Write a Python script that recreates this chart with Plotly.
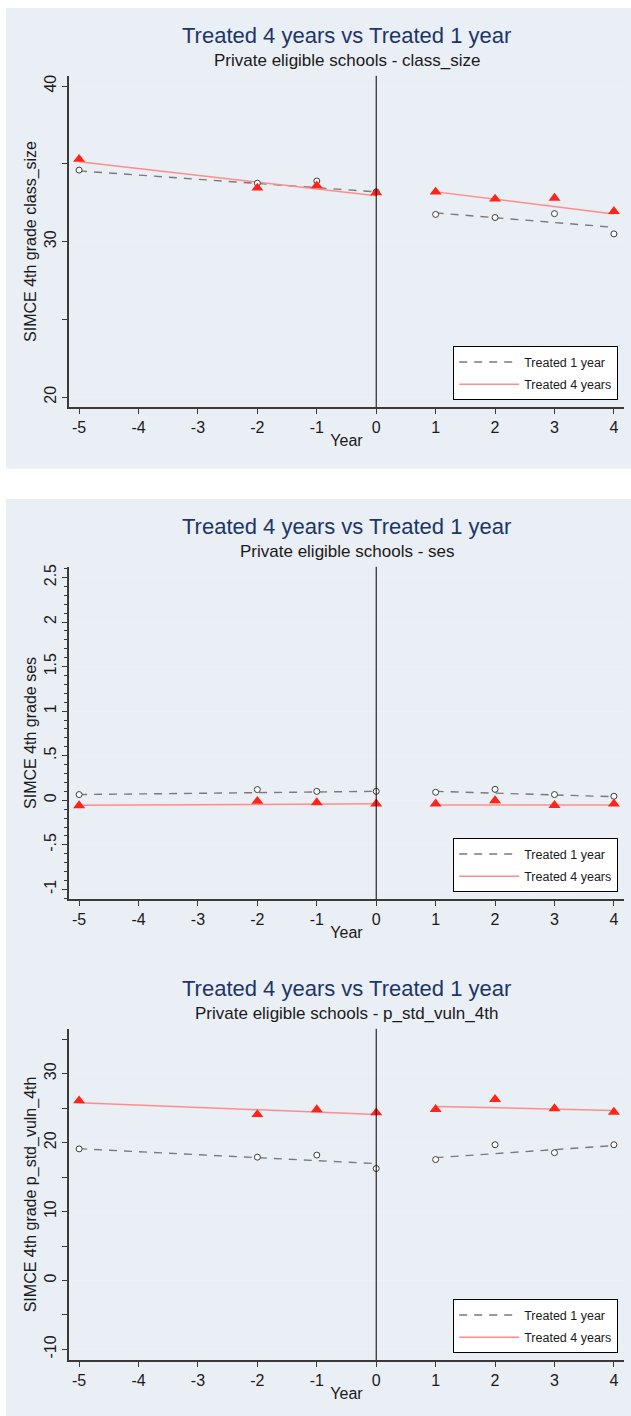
import plotly.graph_objects as go

W, H = 631, 1416

# Event-time axis
years = [-5, -2, -1, 0, 1, 2, 3, 4]
pre_span = [-5, 0]
post_span = [1, 4]

# class_size: group means by year
class_size_t1 = [34.6, 33.76, 33.9, 33.2, 31.75, 31.55, 31.8, 30.5]
class_size_t4 = [35.3, 33.45, 33.6, 33.15, 33.2, 32.75, 32.8, 31.95]
# class_size: linear fits before and after treatment (values at span ends)
class_size_t1_pre_fit = [34.55, 33.2]
class_size_t1_post_fit = [31.85, 30.92]
class_size_t4_pre_fit = [35.13, 32.95]
class_size_t4_post_fit = [33.2, 31.78]

# ses
ses_t1 = [0.064, 0.12, 0.10, 0.10, 0.09, 0.123, 0.064, 0.045]
ses_t4 = [-0.06, -0.01, -0.026, -0.04, -0.04, -0.003, -0.056, -0.04]
ses_t1_pre_fit = [0.064, 0.10]
ses_t1_post_fit = [0.10, 0.04]
ses_t4_pre_fit = [-0.056, -0.04]
ses_t4_post_fit = [-0.053, -0.053]

# p_std_vuln_4th
vuln_t1 = [19.1, 17.9, 18.2, 16.25, 17.55, 19.7, 18.55, 19.7]
vuln_t4 = [26.1, 24.1, 24.8, 24.35, 24.85, 26.3, 24.95, 24.45]
vuln_t1_pre_fit = [19.13, 16.96]
vuln_t1_post_fit = [17.83, 19.57]
vuln_t4_pre_fit = [25.8, 24.1]
vuln_t4_post_fit = [25.26, 24.68]

series_names = ["Treated 1 year", "Treated 4 years"]
subtitles = [
    "Private eligible schools - class_size",
    "Private eligible schools - ses",
    "Private eligible schools - p_std_vuln_4th",
]
ytitles = [
    "SIMCE 4th grade class_size",
    "SIMCE 4th grade ses",
    "SIMCE 4th grade p_std_vuln_4th",
]
main_title = "Treated 4 years vs Treated 1 year"

# y-axis ticks per panel
y_ticks = [
    dict(vals=[20, 30, 40], text=["20", "30", "40"], minor=5, minorlen=5, rng=[19.36, 40.66]),
    dict(vals=[-1, -0.5, 0, 0.5, 1, 1.5, 2, 2.5],
         text=["-1", "-.5", "0", ".5", "1", "1.5", "2", "2.5"], minor=0.1, minorlen=3,
         rng=[-1.109, 2.62]),
    dict(vals=[-10, 0, 10, 20, 30], text=["-10", "0", "10", "20", "30"], minor=5, minorlen=5,
         rng=[-11.55, 36.52]),
]

panels = [
    (class_size_t1, class_size_t4, class_size_t1_pre_fit, class_size_t1_post_fit,
     class_size_t4_pre_fit, class_size_t4_post_fit),
    (ses_t1, ses_t4, ses_t1_pre_fit, ses_t1_post_fit, ses_t4_pre_fit, ses_t4_post_fit),
    (vuln_t1, vuln_t4, vuln_t1_pre_fit, vuln_t1_post_fit, vuln_t4_pre_fit, vuln_t4_post_fit),
]

# plot-area pixel boxes (left, top, right, bottom)
boxes = [(69, 73, 624, 405), (69, 565, 624, 898), (69, 1028, 624, 1360)]

BG = "#eaeef5"
GREY = "#7a7a7a"
PINK = "#ff8c8c"
RED = "#ff2418"
AXIS = "#3a3a3a"
TXT = "#1a1a1a"
NAVY = "#1c3767"
FONT = "Liberation Sans, Arial, sans-serif"


def fx(px):
    return px / W


def fy(py):
    return 1 - py / H


fig = go.Figure()
layout = dict(
    width=W, height=H, margin=dict(l=0, r=0, t=0, b=0),
    paper_bgcolor="white", plot_bgcolor="white",
    font=dict(family=FONT, color=TXT),
    shapes=[], annotations=[],
)

# panel backgrounds
layout["shapes"].append(dict(type="rect", xref="paper", yref="paper", layer="below",
                             x0=fx(6), x1=1, y0=fy(466.7), y1=fy(5),
                             fillcolor=BG, line=dict(width=0)))
layout["shapes"].append(dict(type="rect", xref="paper", yref="paper", layer="below",
                             x0=fx(6), x1=1, y0=0, y1=fy(497),
                             fillcolor=BG, line=dict(width=0)))

for i, (t1, t4, t1pre, t1post, t4pre, t4post) in enumerate(panels):
    n = i + 1
    sx = "" if n == 1 else str(n)
    xa, ya = "x" + sx, "y" + sx
    leg = "legend" if n == 1 else "legend" + str(n)
    left, top, right, bottom = boxes[i]

    # fitted lines (legend entries)
    fig.add_trace(go.Scatter(x=pre_span, y=t1pre, mode="lines", xaxis=xa, yaxis=ya,
                             line=dict(color=GREY, width=1.4, dash="8px,7px"),
                             name=series_names[0], legend=leg, legendgroup="a",
                             showlegend=True, hoverinfo="skip"))
    fig.add_trace(go.Scatter(x=post_span, y=t1post, mode="lines", xaxis=xa, yaxis=ya,
                             line=dict(color=GREY, width=1.4, dash="8px,7px"),
                             name=series_names[0], legend=leg, legendgroup="a",
                             showlegend=False, hoverinfo="skip"))
    fig.add_trace(go.Scatter(x=pre_span, y=t4pre, mode="lines", xaxis=xa, yaxis=ya,
                             line=dict(color=PINK, width=1.5),
                             name=series_names[1], legend=leg, legendgroup="b",
                             showlegend=True, hoverinfo="skip"))
    fig.add_trace(go.Scatter(x=post_span, y=t4post, mode="lines", xaxis=xa, yaxis=ya,
                             line=dict(color=PINK, width=1.5),
                             name=series_names[1], legend=leg, legendgroup="b",
                             showlegend=False, hoverinfo="skip"))
    # yearly means
    fig.add_trace(go.Scatter(x=years, y=t1, mode="markers", xaxis=xa, yaxis=ya,
                             marker=dict(symbol="circle", size=6, color="white",
                                         line=dict(color="#3c3c3c", width=1)),
                             name=series_names[0], showlegend=False))
    fig.add_trace(go.Scatter(x=years, y=t4, mode="markers", xaxis=xa, yaxis=ya,
                             marker=dict(symbol="triangle-up", size=10.5, color=RED,
                                         line=dict(width=0)),
                             name=series_names[1], showlegend=False))

    yt = y_ticks[i]
    layout["xaxis" + sx] = dict(
        domain=[fx(left), fx(right)], anchor=ya, range=[-5.17, 4.17],
        tickvals=list(range(-5, 5)), ticktext=[str(v) for v in range(-5, 5)],
        ticks="outside", ticklen=5, tickwidth=1.2, tickcolor=AXIS,
        showline=True, linecolor=AXIS, linewidth=1.6, showgrid=False, zeroline=False,
        tickfont=dict(size=16, color=TXT),
        title=dict(text="Year", font=dict(size=16, color=TXT), standoff=0),
    )
    layout["yaxis" + sx] = dict(
        domain=[fy(bottom), fy(top)], anchor=xa, range=yt["rng"],
        tickvals=yt["vals"], ticktext=yt["text"], tickangle=-90,
        ticks="outside", ticklen=5, tickwidth=1.2, tickcolor=AXIS,
        minor=dict(dtick=yt["minor"], tick0=0, ticks="outside", ticklen=yt["minorlen"],
                   tickwidth=1, tickcolor=AXIS, showgrid=False),
        showline=True, linecolor=AXIS, linewidth=1.6,
        showgrid=True, gridcolor="#edf0f5", gridwidth=1, zeroline=False,
        tickfont=dict(size=16, color=TXT),
        title=dict(text=ytitles[i], font=dict(size=16, color=TXT), standoff=1),
    )

    # reference line at year 0
    layout["shapes"].append(dict(type="line", xref=xa, yref=ya + " domain",
                                 x0=0, x1=0, y0=0, y1=1,
                                 line=dict(color="black", width=1)))

    # titles
    cx = fx((left + right) / 2)
    layout["annotations"].append(dict(text=main_title, xref="paper", yref="paper",
                                      x=cx, y=fy(top - 40.5), xanchor="center",
                                      yanchor="middle", showarrow=False,
                                      font=dict(size=22, color=NAVY)))
    layout["annotations"].append(dict(text=subtitles[i], xref="paper", yref="paper",
                                      x=cx, y=fy(top - 15), xanchor="center",
                                      yanchor="middle", showarrow=False,
                                      font=dict(size=17, color=TXT)))

    layout[leg] = dict(
        x=fx(618), y=fy(bottom - 7), xanchor="right", yanchor="bottom",
        bgcolor="white", bordercolor="black", borderwidth=1.2,
        font=dict(size=12.5, color=TXT), itemwidth=60,
        tracegroupgap=3, itemclick=False, itemdoubleclick=False,
    )

fig.update_layout(**layout)
fig.write_html("out.html")
